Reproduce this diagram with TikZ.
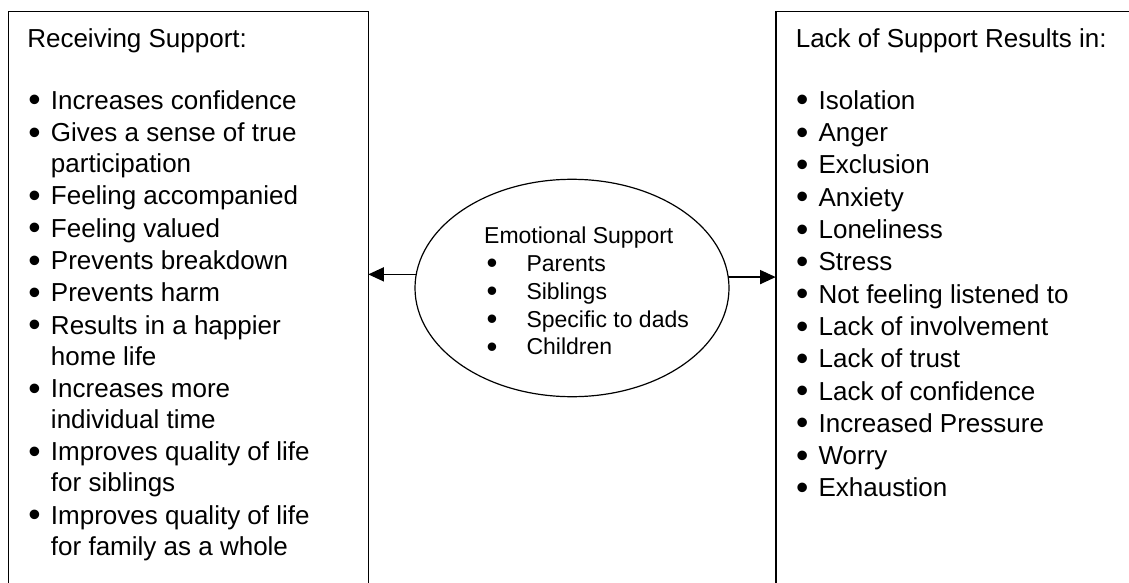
\documentclass[tikz,border=0pt]{standalone}
\usepackage{fontspec}
\setmainfont{Liberation Sans}
\usetikzlibrary{arrows.meta,shapes.geometric}
\newcommand\bigbul[1]{\raisebox{#1}{\scalebox{1.35}{•}}}
\newcommand\lb{\hspace*{1pt}\makebox[22.7pt][l]{\strut\bigbul{-2.6pt}}}
\newcommand\lc{\hspace*{23.7pt}\strut}
\newcommand\rb{\hspace*{0.2pt}\makebox[22.6pt][l]{\strut\bigbul{-2.6pt}}}
\newcommand\eb{\hspace*{2.5pt}\makebox[39.8pt][l]{\strut\bigbul{-2.3pt}}}
\begin{document}
\begin{tikzpicture}[x=1pt,y=-1pt,
  boxstyle/.style={draw, line width=1.6pt, rectangle, anchor=north west, inner sep=0pt, outer sep=0pt},
  ovalstyle/.style={draw, line width=1.2pt, ellipse, inner sep=0pt, outer sep=0pt},
  txt/.style={inner sep=0pt, outer sep=0pt, align=left},
  arr/.style={line width=1.3pt, -{Triangle[length=15.5pt,width=14pt]}}]
\useasboundingbox (0,0) rectangle (1129,583);
\clip (0,0) rectangle (1129,583);
\node[boxstyle, minimum width=360pt, minimum height=600pt] (L) at (8.3,11.7) {};
\node[boxstyle, minimum width=400pt, minimum height=600pt] (R) at (775.7,11.7) {};
\node[ovalstyle, minimum width=314pt, minimum height=217.4pt] (E) at (572,288) {};
% left box text
\node[txt, anchor=base west, font=\fontsize{26}{31}\selectfont] (Lh) at (27.3,47.3) {Receiving Support:};
\node[txt, anchor=north west, font=\fontsize{26}{31}\selectfont] (Ll) at (27.3,87.6) {%
\lb Increases confidence\\[1.3pt]
\lb Gives a sense of true\\
\lc participation\\[1.3pt]
\lb Feeling accompanied\\[1.3pt]
\lb Feeling valued\\[1.3pt]
\lb Prevents breakdown\\[1.3pt]
\lb Prevents harm\\[1.3pt]
\lb Results in a happier\\
\lc home life\\[1.3pt]
\lb Increases more\\
\lc individual time\\[1.3pt]
\lb Improves quality of life\\
\lc for siblings\\[1.3pt]
\lb Improves quality of life\\
\lc for family as a whole};
% right box text
\node[txt, anchor=base west, font=\fontsize{26}{32.3}\selectfont] (Rh) at (795.8,47.3) {Lack of Support Results in:};
\node[txt, anchor=north west, font=\fontsize{26}{32.3}\selectfont] (Rl) at (795.8,86.7) {%
\rb Isolation\\
\rb Anger\\
\rb Exclusion\\
\rb Anxiety\\
\rb Loneliness\\
\rb Stress\\
\rb Not feeling listened to\\
\rb Lack of involvement\\
\rb Lack of trust\\
\rb Lack of confidence\\
\rb Increased Pressure\\
\rb Worry\\
\rb Exhaustion};
% ellipse text
\node[txt, anchor=north west, font=\fontsize{23}{27.9}\selectfont] (Et) at (484.2,223.8) {%
\strut Emotional Support\\
\eb Parents\\
\eb Siblings\\
\eb Specific to dads\\
\eb Children};
% connectors
\draw[arr] (E.175.4) -- (E.175.4 -| L.east);
\draw[arr] (E.4.6) -- (E.4.6 -| R.west);
\end{tikzpicture}
\end{document}
